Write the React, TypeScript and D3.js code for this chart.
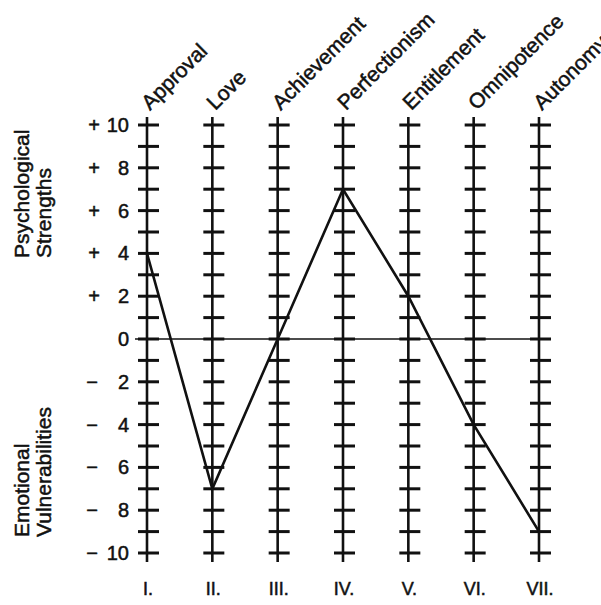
import React from "react";
import * as d3 from "d3";

const categories = ["Approval", "Love", "Achievement", "Perfectionism", "Entitlement", "Omnipotence", "Autonomy"];
const numerals = ["I.", "II.", "III.", "IV.", "V.", "VI.", "VII."];
const values = [4, -7, 0, 7, 2, -4, -9];
const tickValues = d3.range(-10, 11, 1);
const labelValues = [10, 8, 6, 4, 2, 0, -2, -4, -6, -8, -10];
const upperTitle = ["Psychological", "Strengths"];
const lowerTitle = ["Emotional", "Vulnerabilities"];

const W = 601;
const H = 605;
const INK = "#111";
const FONT = "'Liberation Sans', Arial, Helvetica, sans-serif";

export default function App() {
  const x = d3.scalePoint<string>().domain(categories).range([147, 539]);
  const y = d3.scaleLinear().domain([-10, 10]).range([553, 125]);
  const line = d3
    .line<number>()
    .x((_, i) => x(categories[i]) as number)
    .y((d) => y(d));

  const textStroke = { stroke: INK, strokeWidth: 0.5 };

  return (
    <svg
      width={W}
      height={H}
      style={{ position: "absolute", left: 0, top: 0, background: "#fff" }}
      fontFamily={FONT}
    >
      {/* zero line */}
      <line x1={135} x2={548} y1={y(0)} y2={y(0)} stroke={INK} strokeWidth={1.6} />

      {/* vertical axes with ticks */}
      {categories.map((c) => {
        const cx = x(c) as number;
        return (
          <g key={c}>
            <line x1={cx} x2={cx} y1={y(10) - 8} y2={y(-10) + 9} stroke={INK} strokeWidth={2.6} />
            {tickValues.map((t) => (
              <line key={t} x1={cx - 9} x2={cx + 12} y1={y(t)} y2={y(t)} stroke={INK} strokeWidth={3} />
            ))}
            <text
              transform={`translate(${cx + 3},${111}) rotate(-45)`}
              fontSize={21}
              fill={INK}
              {...textStroke}
            >
              {c}
            </text>
          </g>
        );
      })}

      {/* data line */}
      <path d={line(values) || ""} fill="none" stroke={INK} strokeWidth={2.6} strokeLinejoin="miter" />

      {/* tick labels */}
      {labelValues.map((v) => (
        <g key={v} fontSize={20} fill={INK} {...textStroke}>
          {v !== 0 && (
            <text x={v > 0 ? 94 : 92} y={y(v) + 7} textAnchor="middle">
              {v > 0 ? "+" : "−"}
            </text>
          )}
          <text x={129} y={y(v) + 7} textAnchor="end">
            {Math.abs(v)}
          </text>
        </g>
      ))}

      {/* roman numerals */}
      {categories.map((c, i) => (
        <text
          key={c}
          x={(x(c) as number) + 1}
          y={595}
          textAnchor="middle"
          fontSize={18}
          fill={INK}
          {...textStroke}
        >
          {numerals[i]}
        </text>
      ))}

      {/* side titles */}
      {upperTitle.map((t, i) => (
        <text
          key={t}
          transform={`translate(${29 + i * 22},258) rotate(-90)`}
          fontSize={21}
          fill={INK}
          {...textStroke}
        >
          {t}
        </text>
      ))}
      {lowerTitle.map((t, i) => (
        <text
          key={t}
          transform={`translate(${29 + i * 22},537) rotate(-90)`}
          fontSize={21}
          fill={INK}
          {...textStroke}
        >
          {t}
        </text>
      ))}
    </svg>
  );
}
